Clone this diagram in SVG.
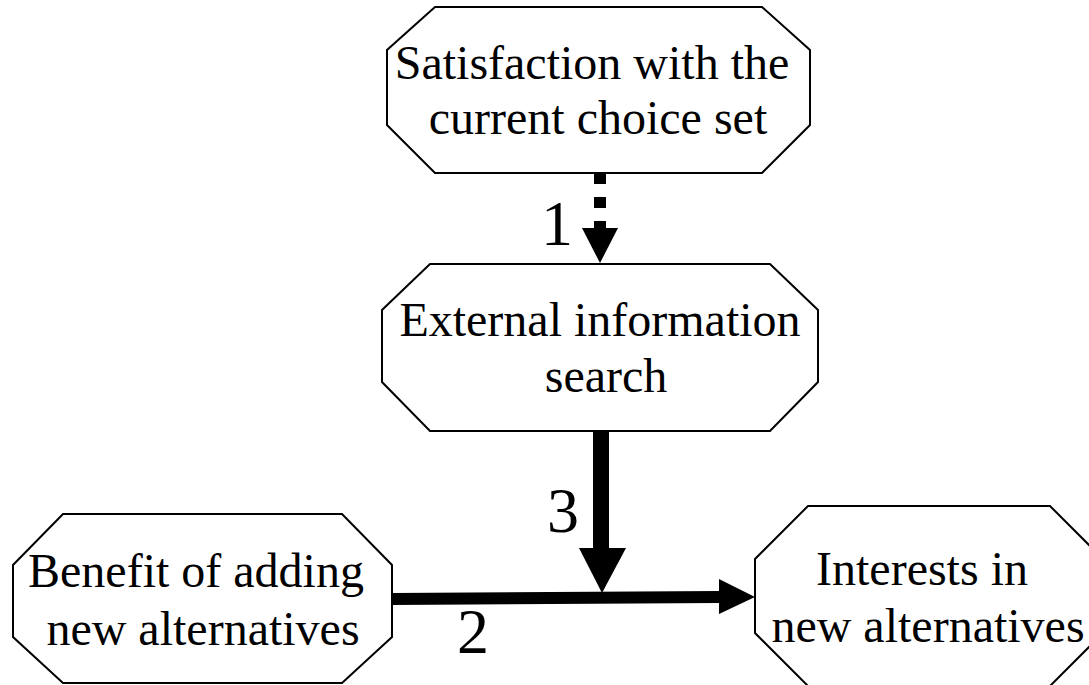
<svg xmlns="http://www.w3.org/2000/svg" width="1089" height="685" viewBox="0 0 1089 685">
<style>
.node{fill:#fff;stroke:#000;stroke-width:2}
.t{font-family:"Liberation Serif","Times New Roman",serif;font-size:48px;fill:#000;text-anchor:middle}
.lbl{font-family:"Liberation Serif","Times New Roman",serif;font-size:64px;fill:#000;text-anchor:middle}
</style>
<rect width="1089" height="685" fill="#fff"/>
<g id="node-satisfaction">
<polygon class="node" points="435,7 762,7 810,50 810,125 762,173 435,173 387,125 387,50"/>
<text class="t" x="592" y="79">Satisfaction with the</text>
<text class="t" x="598" y="134">current choice set</text>
</g>
<g id="node-search">
<polygon class="node" points="430,264 770,264 818,310 818,382 770,431 430,431 382,382 382,310"/>
<text class="t" x="600" y="336">External information</text>
<text class="t" x="606" y="392">search</text>
</g>
<g id="node-benefit">
<polygon class="node" points="63,514 342,514 392,565 392,637 342,683 63,683 13,637 13,565"/>
<text class="t" x="196" y="587">Benefit of adding</text>
<text class="t" x="203" y="645">new alternatives</text>
</g>
<g id="node-interests">
<polygon class="node" points="808,506 1050,506 1103,559 1103,633 1050,686 808,686 755,633 755,559"/>
<text class="t" x="922" y="585">Interests in</text>
<text class="t" x="928" y="642">new alternatives</text>
</g>
<g id="connectors">
<line x1="600" y1="173" x2="600" y2="228" stroke="#000" stroke-width="12" stroke-dasharray="11 13"/>
<polygon points="582,228 618,228 600,263" fill="#000"/>
<line x1="392" y1="599" x2="720" y2="597" stroke="#000" stroke-width="12"/>
<polygon points="719,579 755,597 719,614" fill="#000"/>
<line x1="601" y1="431" x2="601" y2="549" stroke="#000" stroke-width="16"/>
<polygon points="579,548 626,548 602,593" fill="#000"/>
<text class="lbl" x="557" y="245">1</text>
<text class="lbl" x="473" y="653">2</text>
<text class="lbl" x="563" y="532">3</text>
</g>
</svg>
